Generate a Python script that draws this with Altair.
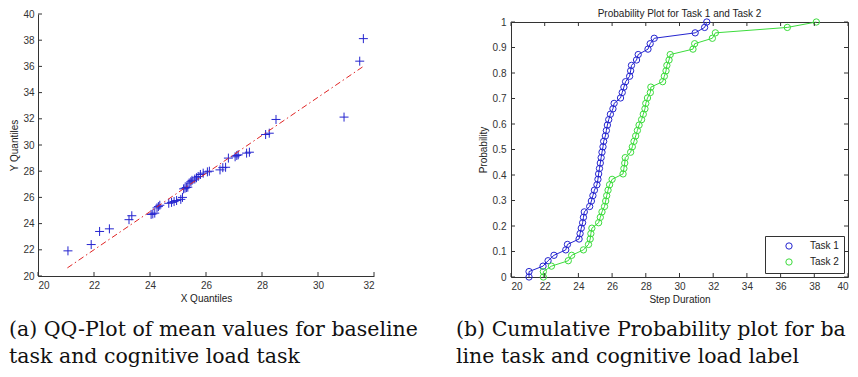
import altair as alt
import pandas as pd

# ---------------- data ----------------
task1 = [21.07, 21.90, 22.20, 22.55, 23.25, 23.35, 24.04, 24.10, 24.17, 24.25,
         24.30, 24.35, 24.67, 24.77, 24.86, 24.95, 25.10, 25.16, 25.20, 25.25,
         25.30, 25.35, 25.40, 25.46, 25.50, 25.60, 25.66, 25.72, 25.80, 25.90,
         26.05, 26.12, 26.50, 26.60, 26.70, 26.80, 27.04, 27.10, 27.15, 27.45,
         27.55, 28.13, 28.26, 28.50, 30.93, 31.49, 31.62]
task2 = [21.92, 22.40, 23.40, 23.60, 24.30, 24.60, 24.70, 24.74, 24.80, 25.20,
         25.30, 25.40, 25.55, 25.62, 25.68, 25.76, 25.85, 26.00, 26.65, 26.70,
         26.75, 26.78, 27.10, 27.20, 27.30, 27.40, 27.50, 27.60, 27.75, 27.85,
         27.95, 28.00, 28.10, 28.27, 28.30, 29.00, 29.10, 29.20, 29.25, 29.38,
         29.45, 30.80, 30.90, 31.95, 32.13, 36.40, 38.12]

fit_x = [21.05, 31.62]
fit_y = [20.62, 36.00]

series_names = ["Task 1", "Task 2"]

xticks_qq = [20, 22, 24, 26, 28, 30, 32]
yticks_qq = [20, 22, 24, 26, 28, 30, 32, 34, 36, 38, 40]
xticks_cdf = [20, 22, 24, 26, 28, 30, 32, 34, 36, 38, 40]
yticks_cdf = [0, 0.1, 0.2, 0.3, 0.4, 0.5, 0.6, 0.7, 0.8, 0.9, 1]

cap_a = ["(a) QQ-Plot of mean values for baseline", "task and cognitive load task"]
cap_b = ["(b) Cumulative Probability plot for base-", "line task and cognitive load label"]

title_b = ["Probability Plot for Task 1 and Task 2"]

# ---------------- styling ----------------
FONT = "Liberation Sans"
SERIF = "DejaVu Serif"
AX = "#333333"
BLUE = "#2424cf"
GREEN = "#3cdc3c"
RED = "#e02424"
TL = 4

W1, H1 = 336, 254      # left panel: plot drawn from -LIFT to H1
LIFT = 8
W2, H2 = 337, 255

# ---------------- left: QQ plot ----------------
qq_df = pd.DataFrame({"xq": task1, "yq": task2})
fit_df = pd.DataFrame({"xq": fit_x, "yq": fit_y})

xs1 = alt.Scale(domain=[20, 32], nice=False, zero=False)
ys1 = alt.Scale(domain=[20, 40], nice=False, zero=False, range=[H1, -LIFT])
xax1 = alt.Axis(values=xticks_qq, title="X Quantiles", labelPadding=4, titlePadding=3)
yax1 = alt.Axis(values=yticks_qq, title="Y Quantiles", labelPadding=4, titlePadding=3)

qq_pts = alt.Chart(qq_df).mark_point(
    shape="M-1,0L1,0M0,-1L0,1", size=81, filled=False, strokeWidth=1,
    color=BLUE, opacity=1
).encode(
    x=alt.X("xq:Q", scale=xs1, axis=xax1),
    y=alt.Y("yq:Q", scale=ys1, axis=yax1),
)

qq_fit = alt.Chart(fit_df).mark_line(
    color=RED, strokeWidth=1, strokeDash=[6, 3, 1.5, 3]
).encode(x=alt.X("xq:Q", scale=xs1, axis=xax1), y=alt.Y("yq:Q", scale=ys1, axis=yax1))

qq_xt = alt.Chart(pd.DataFrame({"xq": xticks_qq})).mark_rule(color=AX, strokeWidth=1).encode(
    x=alt.X("xq:Q", scale=xs1, axis=xax1), y=alt.value(H1), y2=alt.value(H1 - TL))
qq_yt = alt.Chart(pd.DataFrame({"yq": yticks_qq})).mark_rule(color=AX, strokeWidth=1).encode(
    y=alt.Y("yq:Q", scale=ys1, axis=yax1), x=alt.value(0), x2=alt.value(TL))

left = alt.layer(qq_pts, qq_fit, qq_xt, qq_yt).properties(width=W1, height=H1)

# ---------------- right: cumulative probability ----------------
cdf_df = pd.DataFrame({
    "series": [series_names[0]] * len(task1) + [series_names[1]] * len(task2),
    "dur": task1 + task2,
})

base = (
    alt.Chart(cdf_df)
    .transform_window(rank="row_number()", sort=[alt.SortField("dur")], groupby=["series"])
    .transform_joinaggregate(n="count()", groupby=["series"])
    .transform_calculate(p_top="datum.rank / datum.n", p_bot="(datum.rank - 1) / datum.n")
    .transform_fold(["p_top", "p_bot"], as_=["kind", "p"])
    .transform_filter("datum.kind == 'p_top' || datum.rank == 1")
)

xs2 = alt.Scale(domain=[20, 40], nice=False, zero=False)
ys2 = alt.Scale(domain=[0, 1], nice=False)
cscale = alt.Scale(domain=series_names, range=[BLUE, GREEN])
xax2 = alt.Axis(values=xticks_cdf, title="Step Duration", domain=False,
                labelPadding=4, titlePadding=3)
yax2 = alt.Axis(values=yticks_cdf, format="~g", title="Probability", domain=False,
                labelPadding=5, titlePadding=4)
leg = alt.Legend(title=None, orient="bottom-right", offset=4,
                 strokeColor=AX, fillColor="white", padding=5,
                 symbolOffset=14, labelOffset=16, rowPadding=4,
                 symbolSize=40, symbolStrokeWidth=1, symbolType="circle",
                 symbolFillColor="transparent",
                 labelFontSize=10, labelFont=FONT, labelColor="#222")

cdf_line = base.mark_line(strokeWidth=1).encode(
    x=alt.X("dur:Q", scale=xs2, axis=xax2),
    y=alt.Y("p:Q", scale=ys2, axis=yax2),
    color=alt.Color("series:N", scale=cscale, legend=leg),
    order=alt.Order("p:Q"),
)
cdf_pts = base.mark_point(shape="circle", size=40, filled=False, strokeWidth=1, opacity=1).encode(
    x=alt.X("dur:Q", scale=xs2, axis=xax2),
    y=alt.Y("p:Q", scale=ys2, axis=yax2),
    color=alt.Color("series:N", scale=cscale, legend=leg),
)

c_xb = alt.Chart(pd.DataFrame({"dur": xticks_cdf})).mark_rule(color=AX).encode(
    x=alt.X("dur:Q", scale=xs2, axis=xax2), y=alt.value(H2), y2=alt.value(H2 - TL))
c_xt = alt.Chart(pd.DataFrame({"dur": xticks_cdf})).mark_rule(color=AX).encode(
    x=alt.X("dur:Q", scale=xs2, axis=xax2), y=alt.value(0), y2=alt.value(TL))
c_yl = alt.Chart(pd.DataFrame({"p": yticks_cdf})).mark_rule(color=AX).encode(
    y=alt.Y("p:Q", scale=ys2, axis=yax2), x=alt.value(0), x2=alt.value(TL))
c_yr = alt.Chart(pd.DataFrame({"p": yticks_cdf})).mark_rule(color=AX).encode(
    y=alt.Y("p:Q", scale=ys2, axis=yax2), x=alt.value(W2), x2=alt.value(W2 - TL))

c_title = alt.Chart(pd.DataFrame({"t": title_b})).mark_text(
    font=FONT, fontSize=10, color="#222", align="center", baseline="middle"
).encode(text="t:N", x=alt.value(W2 / 2), y=alt.value(-8))

right = alt.layer(cdf_line, cdf_pts, c_xb, c_xt, c_yl, c_yr, c_title).properties(
    width=W2, height=H2,
    view=alt.ViewBackground(stroke=AX, strokeWidth=1),
)

# ---------------- captions (origin = left plot's left edge) ----------------
def cap(text, x, y, limit=0):
    kw = dict(align="left", baseline="alphabetic", font=SERIF, fontSize=20.5,
              color="#111111")
    if limit:
        kw.update(limit=limit, ellipsis="\u200b")
    return alt.Chart(pd.DataFrame({"t": [text]})).mark_text(**kw).encode(
        text="t:N", x=alt.value(x), y=alt.value(y))

captions = alt.layer(
    cap(cap_a[0], -29, 30),
    cap(cap_a[1], -29, 57),
    cap(cap_b[0], 418, 30, limit=396),
    cap(cap_b[1], 418, 57),
).properties(width=800, height=56)

top_row = alt.hconcat(left, right, spacing=102).resolve_scale(
    color="independent").resolve_legend(color="independent")

chart = alt.vconcat(
    top_row,
    captions,
    spacing=0,
).resolve_scale(color="independent").resolve_legend(color="independent").properties(
    padding={"left": 0, "top": 0, "right": 0, "bottom": 0},
    background="white",
).configure_view(stroke="transparent").configure_axis(
    grid=False, ticks=False, tickSize=0,
    labelFont=FONT, titleFont=FONT, labelFontSize=10, titleFontSize=10,
    titleFontWeight="normal", labelColor=AX, titleColor="#222",
    domainColor=AX, domainWidth=1,
)

chart.save("out.html", embed_options={"renderer": "svg", "actions": False})
